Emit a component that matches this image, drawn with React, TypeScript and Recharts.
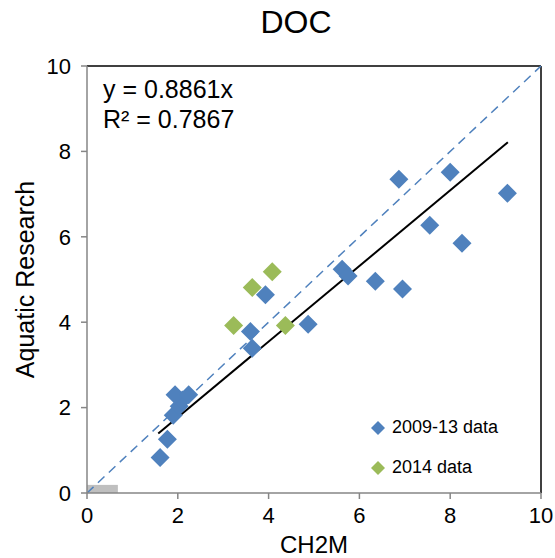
import React from 'react';
import {
  ScatterChart,
  Scatter,
  XAxis,
  YAxis,
  ReferenceLine,
  ReferenceArea,
  Label,
} from 'recharts';

// CH2M (x) vs Aquatic Research (y), DOC
const data0913 = [
  { x: 1.61, y: 0.83 },
  { x: 1.77, y: 1.26 },
  { x: 1.9, y: 1.82 },
  { x: 2.03, y: 2.03 },
  { x: 2.1, y: 2.18 },
  { x: 1.94, y: 2.3 },
  { x: 2.24, y: 2.3 },
  { x: 3.64, y: 3.39 },
  { x: 3.6, y: 3.78 },
  { x: 3.93, y: 4.64 },
  { x: 4.87, y: 3.95 },
  { x: 5.62, y: 5.24 },
  { x: 5.75, y: 5.08 },
  { x: 6.35, y: 4.96 },
  { x: 6.95, y: 4.78 },
  { x: 6.87, y: 7.35 },
  { x: 8.0, y: 7.51 },
  { x: 7.55, y: 6.27 },
  { x: 8.26, y: 5.85 },
  { x: 9.26, y: 7.02 },
];

const data2014 = [
  { x: 3.23, y: 3.92 },
  { x: 3.64, y: 4.81 },
  { x: 4.08, y: 5.18 },
  { x: 4.37, y: 3.92 },
];

const axisTicks = [0, 2, 4, 6, 8, 10];
const legendNames = ['2009-13 data', '2014 data'];
const slope = 0.8861;
const rSquared = 0.7867;
const trendRange = [1.57, 9.27];
const detectionBox = { x2: 0.68, y2: 0.19 };

const BLUE = '#4F81BD';
const GREEN = '#9BBB59';
const AXIS = '#868686';
const FONT = '"Liberation Sans", Arial, sans-serif';

const Diamond = (props: any) => {
  const { cx, cy, fill } = props;
  const r = 9.5;
  return (
    <path
      d={`M${cx},${cy - r}L${cx + r},${cy}L${cx},${cy + r}L${cx - r},${cy}Z`}
      fill={fill}
    />
  );
};

const YLabel = (props: any) => {
  const { viewBox } = props;
  const cx = 25;
  const cy = viewBox.y + viewBox.height / 2;
  return (
    <text
      x={cx}
      y={cy}
      transform={`rotate(-90 ${cx} ${cy})`}
      textAnchor="middle"
      dominantBaseline="central"
      fontSize={25}
      fontFamily={FONT}
      fill="#000"
    >
      Aquatic Research
    </text>
  );
};

const LegendRow = ({ color, name, top }: { color: string; name: string; top: number }) => (
  <div
    style={{
      position: 'absolute',
      left: 0,
      top,
      display: 'flex',
      alignItems: 'center',
      whiteSpace: 'nowrap',
    }}
  >
    <svg width={16} height={16} style={{ marginRight: 6, flexShrink: 0 }}>
      <path d="M8,1L15,8L8,15L1,8Z" fill={color} />
    </svg>
    <span style={{ fontSize: 18, fontFamily: FONT, color: '#000' }}>{name}</span>
  </div>
);

export default function App() {
  return (
    <div style={{ position: 'absolute', left: 0, top: 0, width: 555, height: 558, background: '#fff' }}>
      <div
        style={{
          position: 'absolute',
          left: 0,
          width: 592,
          top: 4,
          textAlign: 'center',
          fontSize: 32,
          fontFamily: FONT,
          color: '#000',
        }}
      >
        DOC
      </div>
      <ScatterChart
        width={555}
        height={558}
        margin={{ top: 66, right: 14, bottom: 0, left: 0 }}
      >
        <XAxis
          type="number"
          dataKey="x"
          domain={[0, 10]}
          ticks={axisTicks}
          height={65}
          stroke={AXIS}
          strokeWidth={1.5}
          tickSize={6}
          tickMargin={8}
          tick={{ fill: '#000', fontSize: 22, fontFamily: FONT }}
        >
          <Label
            value="CH2M"
            position="insideBottom"
            offset={5}
            style={{ fontSize: 24, fontFamily: FONT, fill: '#000' }}
          />
        </XAxis>
        <YAxis
          type="number"
          dataKey="y"
          domain={[0, 10]}
          ticks={axisTicks}
          width={87}
          stroke={AXIS}
          strokeWidth={1.5}
          tickSize={6}
          tickMargin={10}
          tick={{ fill: '#000', fontSize: 22, fontFamily: FONT }}
        >
          <Label content={<YLabel />} />
        </YAxis>
        <ReferenceArea
          x1={0}
          x2={detectionBox.x2}
          y1={0}
          y2={detectionBox.y2}
          fill="#BFBFBF"
          fillOpacity={1}
          stroke="none"
        />
        <ReferenceLine y={10} stroke="#000" strokeWidth={1.5} />
        <ReferenceLine x={10} stroke="#000" strokeWidth={1.5} />
        <ReferenceLine
          segment={[{ x: 0, y: 0 }, { x: 10, y: 10 }]}
          stroke={BLUE}
          strokeWidth={1.5}
          strokeDasharray="9 6"
        />
        <Scatter data={data0913} fill={BLUE} shape={<Diamond />} isAnimationActive={false} />
        <Scatter data={data2014} fill={GREEN} shape={<Diamond />} isAnimationActive={false} />
        <ReferenceLine
          segment={[
            { x: trendRange[0], y: slope * trendRange[0] },
            { x: trendRange[1], y: slope * trendRange[1] },
          ]}
          stroke="#000"
          strokeWidth={2}
        />
      </ScatterChart>
      <div
        style={{
          position: 'absolute',
          left: 103,
          top: 74,
          fontSize: 25,
          lineHeight: '30px',
          fontFamily: FONT,
          color: '#000',
        }}
      >
        <div>{`y = ${slope}x`}</div>
        <div>{`R² = ${rSquared}`}</div>
      </div>
      <div style={{ position: 'absolute', left: 370, top: 417, width: 170, height: 64 }}>
        <LegendRow color={BLUE} name={legendNames[0]} top={0} />
        <LegendRow color={GREEN} name={legendNames[1]} top={40} />
      </div>
    </div>
  );
}
